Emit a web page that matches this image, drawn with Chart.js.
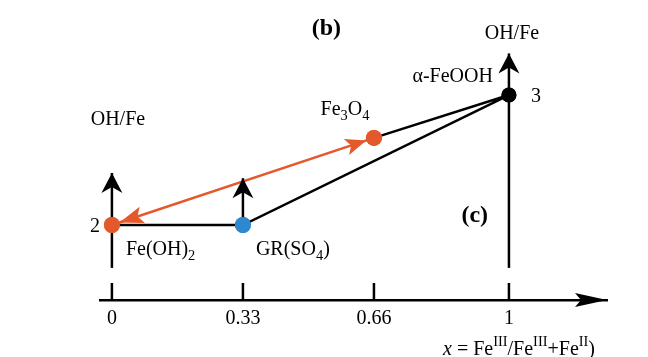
<!DOCTYPE html>
<html><head><meta charset="utf-8">
<script src="https://cdn.jsdelivr.net/npm/chart.js@4/dist/chart.umd.min.js"></script>
<style>html,body{margin:0;padding:0;background:#fff}#wrap{width:648px;height:357px}</style>
</head><body><div id="wrap"><canvas id="c" width="648" height="357"></canvas></div>
<script>
// ---- data ----
const phaseNames = ['Fe(OH)_{2}', 'GR(SO_{4})', 'Fe_{3}O_{4}', 'α-FeOOH'];
const phaseX = [0, 0.33, 0.66, 1];
const phaseOHFe = [2, 2, 2.67, 3];
const tickValues = [0, 0.33, 0.66, 1];
const tickLabels = ['0', '0.33', '0.66', '1'];
const blackPath = [0, 1, 3, 2];      // Fe(OH)2 -> GR(SO4) -> α-FeOOH -> Fe3O4
const orangePath = [0, 2];           // Fe(OH)2 <-> Fe3O4
const arrowX = [0, 0.33, 1];
const arrowFrom = [1.67, 2, 1.67];
const arrowTo = [2.40, 2.36, 3.32];
const yAxisValueLabels = ['2', '3'];
const yAxisTitle = 'OH/Fe';
const xAxisTitle = '*x* = Fe^{III}/Fe^{III}+Fe^{II})';
const panelLabels = ['(b)', '(c)'];

// ---- styles ----
const ORANGE = '#E4592B', BLUE = '#2E88CF', BLACK = '#000000';
const phaseColors = [ORANGE, BLUE, ORANGE, BLACK];
const phaseRadius = [8, 8, 8, 7.5];
const FONT = "'Liberation Serif', 'Times New Roman', serif";
const LABEL_SIZE = 20;
// label offsets (px) relative to each phase point
const phaseLabelPos = [
  {dx: 14, dy: 23, align: 'left'},
  {dx: 13, dy: 23, align: 'left'},
  {dx: -29, dy: -30, align: 'center'},
  {dx: -16, dy: -20, align: 'right'}
];

function pts(idx) { return idx.map(i => ({x: phaseX[i], y: phaseOHFe[i]})); }

function drawRich(ctx, str, x, y, size, align, bold) {
  const re = /(_\{[^}]*\}|\^\{[^}]*\}|\*[^*]*\*)/g;
  const parts = str.split(re).filter(s => s.length);
  const segs = parts.map(p => {
    if (p.startsWith('_{')) return {t: p.slice(2, -1), s: 0.72, off: 0.28, it: false};
    if (p.startsWith('^{')) return {t: p.slice(2, -1), s: 0.72, off: -0.42, it: false};
    if (p.startsWith('*')) return {t: p.slice(1, -1), s: 1, off: 0, it: true};
    return {t: p, s: 1, off: 0, it: false};
  });
  const fontFor = sg => (sg.it ? 'italic ' : '') + (bold ? 'bold ' : '') + (size * sg.s) + 'px ' + FONT;
  let total = 0;
  segs.forEach(sg => { ctx.font = fontFor(sg); sg.w = ctx.measureText(sg.t).width; total += sg.w; });
  let cx = align === 'center' ? x - total / 2 : align === 'right' ? x - total : x;
  const base = y + size * 0.33;
  ctx.fillStyle = '#000';
  ctx.textAlign = 'left';
  ctx.textBaseline = 'alphabetic';
  segs.forEach(sg => { ctx.font = fontFor(sg); ctx.fillText(sg.t, cx, base + sg.off * size); cx += sg.w; });
}

function arrowHead(ctx, tx, ty, ang, L, hw, notch, color) {
  ctx.save();
  ctx.translate(tx, ty); ctx.rotate(ang);
  ctx.beginPath();
  ctx.moveTo(0, 0); ctx.lineTo(-L, -hw); ctx.lineTo(-L + notch, 0); ctx.lineTo(-L, hw);
  ctx.closePath(); ctx.fillStyle = color; ctx.fill();
  ctx.restore();
}

const decor = {
  id: 'decor',
  afterDraw(chart) {
    const ctx = chart.ctx, xs = chart.scales.x, ys = chart.scales.y, ca = chart.chartArea;
    ctx.save();
    // x axis tick marks (above the line) and arrowhead
    ctx.strokeStyle = BLACK; ctx.lineWidth = 2.5;
    tickValues.forEach(v => {
      const px = xs.getPixelForValue(v);
      ctx.beginPath(); ctx.moveTo(px, ca.bottom); ctx.lineTo(px, ca.bottom - 17); ctx.stroke();
    });
    arrowHead(ctx, ca.right, ca.bottom, 0, 32, 7, 6, BLACK);
    // vertical arrowheads
    arrowX.forEach((x, i) => {
      arrowHead(ctx, xs.getPixelForValue(x), ys.getPixelForValue(arrowTo[i]), -Math.PI / 2, 20, 10.5, 6, BLACK);
    });
    // orange double arrow heads
    const a = orangePath[0], b = orangePath[1];
    const x1 = xs.getPixelForValue(phaseX[a]), y1 = ys.getPixelForValue(phaseOHFe[a]);
    const x2 = xs.getPixelForValue(phaseX[b]), y2 = ys.getPixelForValue(phaseOHFe[b]);
    const ang = Math.atan2(y2 - y1, x2 - x1);
    const ux = Math.cos(ang), uy = Math.sin(ang);
    arrowHead(ctx, x2 - ux * phaseRadius[b], y2 - uy * phaseRadius[b], ang, 21, 8.5, 5, ORANGE);
    arrowHead(ctx, x1 + ux * phaseRadius[a], y1 + uy * phaseRadius[a], ang + Math.PI, 24, 8.5, 5, ORANGE);
    // redraw markers on top
    phaseX.forEach((x, i) => {
      ctx.beginPath();
      ctx.arc(xs.getPixelForValue(x), ys.getPixelForValue(phaseOHFe[i]), phaseRadius[i], 0, Math.PI * 2);
      ctx.fillStyle = phaseColors[i]; ctx.fill();
    });
    // phase labels
    phaseNames.forEach((n, i) => {
      const p = phaseLabelPos[i];
      drawRich(ctx, n, xs.getPixelForValue(phaseX[i]) + p.dx, ys.getPixelForValue(phaseOHFe[i]) + p.dy, LABEL_SIZE, p.align);
    });
    // y value labels
    drawRich(ctx, yAxisValueLabels[0], xs.getPixelForValue(arrowX[0]) - 17, ys.getPixelForValue(2), LABEL_SIZE, 'center');
    drawRich(ctx, yAxisValueLabels[1], xs.getPixelForValue(arrowX[2]) + 27, ys.getPixelForValue(3), LABEL_SIZE, 'center');
    // y axis titles
    drawRich(ctx, yAxisTitle, xs.getPixelForValue(arrowX[0]) + 6, ys.getPixelForValue(arrowTo[0]) - 55, LABEL_SIZE, 'center');
    drawRich(ctx, yAxisTitle, xs.getPixelForValue(arrowX[2]) + 3, ys.getPixelForValue(arrowTo[2]) - 21, LABEL_SIZE, 'center');
    // panel labels
    drawRich(ctx, panelLabels[0], xs.getPixelForValue(0.540), ys.getPixelForValue(3.525), 24, 'center', true);
    drawRich(ctx, panelLabels[1], xs.getPixelForValue(0.914), ys.getPixelForValue(2.085), 24, 'center', true);
    // x axis title
    drawRich(ctx, xAxisTitle, xs.getPixelForValue(0.834), ca.bottom + 48, 20, 'left');
    ctx.restore();
  }
};

const datasets = [
  {data: pts([0, 1, 2, 3]), showLine: false, pointRadius: phaseRadius, pointBackgroundColor: phaseColors, pointBorderWidth: 0},
  ...arrowX.map((x, i) => ({data: [{x, y: arrowFrom[i]}, {x, y: arrowTo[i]}], showLine: true, borderColor: BLACK, borderWidth: 2.5, pointRadius: 0})),
  {data: pts(orangePath), showLine: true, borderColor: ORANGE, borderWidth: 2.5, pointRadius: 0},
  {data: pts(blackPath), showLine: true, borderColor: BLACK, borderWidth: 2.5, pointRadius: 0}
];

new Chart(document.getElementById('c'), {
  type: 'scatter',
  data: {datasets},
  options: {
    responsive: false, animation: false, devicePixelRatio: 1,
    layout: {autoPadding: false, padding: {left: 100, right: 41, top: 0, bottom: 0}},
    plugins: {legend: {display: false}, tooltip: {enabled: false}},
    scales: {
      x: {
        type: 'linear', min: -0.03, max: 1.247, position: 'bottom',
        afterBuildTicks: s => { s.ticks = tickValues.map(v => ({value: v})); },
        afterFit: s => { s.height = 57; },
        grid: {display: false, drawTicks: false},
        border: {display: true, color: BLACK, width: 2.5},
        ticks: {autoSkip: false, maxRotation: 0, padding: 7, color: '#000',
          font: {family: FONT, size: 20}, callback: (v, i) => tickLabels[i]}
      },
      y: {display: false, min: 1.423, max: 3.731}
    }
  },
  plugins: [decor]
});
</script>
</body></html>
